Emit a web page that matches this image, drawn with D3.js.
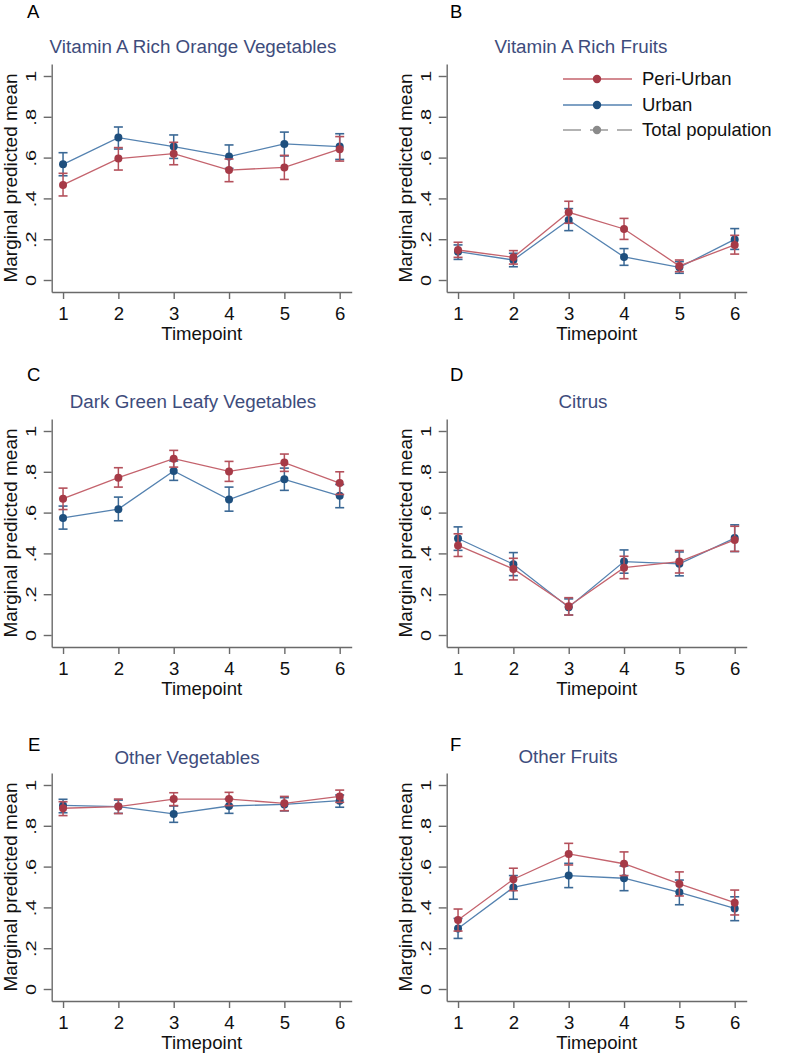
<!DOCTYPE html>
<html><head><meta charset="utf-8">
<script src="https://cdn.jsdelivr.net/npm/d3@7"></script>
<style>body{margin:0;background:#fff}svg{display:block}</style>
</head><body><svg id="c" width="789" height="1054"></svg>
<script>
// ---------- data ----------
const timepoints = [1, 2, 3, 4, 5, 6];
const panelLetters = ["A", "B", "C", "D", "E", "F"];
const panelTitles = ["Vitamin A Rich Orange Vegetables", "Vitamin A Rich Fruits",
  "Dark Green Leafy Vegetables", "Citrus", "Other Vegetables", "Other Fruits"];
const yTickValues = [0, 0.2, 0.4, 0.6, 0.8, 1];
const yTickLabels = ["0", ".2", ".4", ".6", ".8", "1"];
const seriesNames = ["Peri-Urban", "Urban", "Total population"];
const xAxisTitle = "Timepoint";
const yAxisTitle = "Marginal predicted mean";

// Peri-Urban: mean, lower CI, upper CI (one row per panel A..F)
const periMean = [
  [0.466, 0.595, 0.619, 0.539, 0.552, 0.641],
  [0.147, 0.111, 0.332, 0.250, 0.069, 0.172],
  [0.668, 0.771, 0.864, 0.802, 0.845, 0.745],
  [0.439, 0.324, 0.141, 0.330, 0.360, 0.466],
  [0.886, 0.894, 0.931, 0.931, 0.910, 0.944],
  [0.338, 0.538, 0.662, 0.614, 0.515, 0.423]];
const periLo = [
  [0.412, 0.539, 0.565, 0.482, 0.493, 0.583],
  [0.111, 0.078, 0.278, 0.199, 0.041, 0.127],
  [0.615, 0.725, 0.823, 0.753, 0.802, 0.689],
  [0.385, 0.270, 0.098, 0.276, 0.304, 0.410],
  [0.850, 0.860, 0.899, 0.899, 0.874, 0.915],
  [0.284, 0.482, 0.608, 0.556, 0.456, 0.363]];
const periHi = [
  [0.523, 0.649, 0.675, 0.593, 0.611, 0.703],
  [0.185, 0.144, 0.386, 0.302, 0.098, 0.219],
  [0.720, 0.820, 0.905, 0.851, 0.887, 0.800],
  [0.496, 0.376, 0.183, 0.386, 0.414, 0.533],
  [0.918, 0.931, 0.962, 0.964, 0.944, 0.975],
  [0.392, 0.592, 0.714, 0.672, 0.574, 0.485]];
// Urban
const urbanMean = [
  [0.567, 0.698, 0.654, 0.605, 0.667, 0.654],
  [0.139, 0.098, 0.294, 0.113, 0.062, 0.199],
  [0.574, 0.617, 0.804, 0.664, 0.763, 0.682],
  [0.473, 0.347, 0.136, 0.360, 0.349, 0.475],
  [0.900, 0.894, 0.858, 0.897, 0.905, 0.923],
  [0.297, 0.498, 0.556, 0.543, 0.474, 0.395]];
const urbanLo = [
  [0.511, 0.642, 0.596, 0.547, 0.608, 0.591],
  [0.101, 0.065, 0.242, 0.072, 0.033, 0.150],
  [0.519, 0.560, 0.758, 0.607, 0.709, 0.624],
  [0.415, 0.291, 0.098, 0.303, 0.290, 0.409],
  [0.864, 0.861, 0.817, 0.861, 0.873, 0.891],
  [0.248, 0.440, 0.497, 0.482, 0.413, 0.335]];
const urbanHi = [
  [0.624, 0.750, 0.711, 0.662, 0.725, 0.717],
  [0.172, 0.131, 0.350, 0.154, 0.090, 0.252],
  [0.632, 0.676, 0.853, 0.725, 0.818, 0.738],
  [0.530, 0.404, 0.177, 0.417, 0.407, 0.540],
  [0.930, 0.926, 0.897, 0.931, 0.938, 0.951],
  [0.346, 0.556, 0.616, 0.603, 0.534, 0.452]];

// ---------- layout / style ----------
const colX = [0, 395], rowY = [0, 355, 709];
const titleCX = [193, 186, 193, 188, 187, 173];
const titleBase = [53, 53, 53, 53, 55, 54];
const letterX = [27, 55, 27, 55, 28, 55];
const letterBase = [18, 18, 26, 26, 42, 42];
const FONT = "'Liberation Sans', Arial, sans-serif";
const styles = {
  peri: {marker: "#a63a47", line: "#c4636d", bar: "#b4505b"},
  urban: {marker: "#1e4f7e", line: "#5482b0", bar: "#3a6895"},
  total: {marker: "#8a8a8a", line: "#9a9a9a"}
};
const axisColor = "#6a6a6a";
const titleColor = "#3e4c7c";

const svg = d3.select("#c");

panelTitles.forEach((title, p) => {
  const c = p % 2, r = Math.floor(p / 2);
  const g = svg.append("g").attr("transform", `translate(${colX[c]},${rowY[r]})`);
  const x = d3.scaleLinear().domain([0.795, 6.217]).range([51.7, 351.7]);
  const y = d3.scaleLinear().domain([-0.0588, 1.0588]).range([292, 64]);

  // y axis
  const ya = g.append("g").attr("transform", "translate(51.7,0)")
    .call(d3.axisLeft(y).tickValues(yTickValues).tickFormat((d, i) => yTickLabels[i])
      .tickSize(8).tickSizeOuter(0));
  ya.select(".domain").attr("stroke", axisColor).attr("stroke-width", 1.4);
  ya.selectAll(".tick line").attr("stroke", axisColor).attr("stroke-width", 1.4);
  ya.selectAll(".tick text").attr("x", null).attr("dy", null)
    .attr("transform", "translate(-16,0) rotate(-90) scale(1,0.76)")
    .attr("text-anchor", "middle").attr("fill", "#111")
    .style("font-family", FONT).style("font-size", "20px");

  // x axis
  const xa = g.append("g").attr("transform", "translate(0,292)")
    .call(d3.axisBottom(x).tickValues(timepoints).tickFormat(d3.format("d"))
      .tickSize(7).tickSizeOuter(0));
  xa.select(".domain").attr("stroke", axisColor).attr("stroke-width", 1.4);
  xa.selectAll(".tick line").attr("stroke", axisColor).attr("stroke-width", 1.4);
  xa.selectAll(".tick text").attr("y", 27.8).attr("dy", null).attr("fill", "#111")
    .style("font-family", FONT).style("font-size", "18.6px");

  // axis titles
  g.append("text").attr("transform", "translate(16.5,178) rotate(-90)")
    .attr("text-anchor", "middle").attr("fill", "#111")
    .style("font-family", FONT).style("font-size", "19px").text(yAxisTitle);
  g.append("text").attr("x", 201.7).attr("y", 340).attr("text-anchor", "middle")
    .attr("fill", "#111").style("font-family", FONT).style("font-size", "18.6px").text(xAxisTitle);

  // panel title
  g.append("text").attr("x", titleCX[p]).attr("y", titleBase[p]).attr("text-anchor", "middle")
    .attr("fill", titleColor).style("font-family", FONT).style("font-size", "18.8px").text(title);
  // panel letter
  g.append("text").attr("x", letterX[p]).attr("y", letterBase[p])
    .attr("fill", "#000").style("font-family", FONT)
    .style("font-size", "18.5px").text(panelLetters[p]);

  // series: urban first, then peri-urban on top
  const series = [
    {key: "urban", mean: urbanMean[p], lo: urbanLo[p], hi: urbanHi[p]},
    {key: "peri", mean: periMean[p], lo: periLo[p], hi: periHi[p]}
  ];
  const line = d3.line().x(d => x(d.t)).y(d => y(d.v));
  series.forEach(s => {
    const st = styles[s.key];
    const pts = timepoints.map((t, i) => ({t, v: s.mean[i], lo: s.lo[i], hi: s.hi[i]}));
    const sg = g.append("g");
    sg.append("path").datum(pts).attr("d", line).attr("fill", "none")
      .attr("stroke", st.line).attr("stroke-width", 1.3);
    const eb = sg.selectAll(".eb").data(pts).enter().append("g");
    eb.append("line").attr("x1", d => x(d.t)).attr("x2", d => x(d.t))
      .attr("y1", d => y(d.lo)).attr("y2", d => y(d.hi))
      .attr("stroke", st.bar).attr("stroke-width", 1.5);
    [d => d.lo, d => d.hi].forEach(acc => {
      eb.append("line").attr("x1", d => x(d.t) - 4.5).attr("x2", d => x(d.t) + 4.5)
        .attr("y1", d => y(acc(d))).attr("y2", d => y(acc(d)))
        .attr("stroke", st.bar).attr("stroke-width", 1.6);
    });
    sg.selectAll("circle").data(pts).enter().append("circle")
      .attr("cx", d => x(d.t)).attr("cy", d => y(d.v)).attr("r", 4)
      .attr("fill", st.marker);
  });

  // legend (panel B only)
  if (p === 1) {
    const lg = g.append("g");
    const keys = ["peri", "urban", "total"];
    const rowsY = [79, 105, 130];
    keys.forEach((k, i) => {
      const st = styles[k];
      lg.append("line").attr("x1", 168).attr("x2", 237).attr("y1", rowsY[i]).attr("y2", rowsY[i])
        .attr("stroke", st.line).attr("stroke-width", 1.5)
        .attr("stroke-dasharray", k === "total" ? "18 9" : null);
      lg.append("circle").attr("cx", 202).attr("cy", rowsY[i]).attr("r", 4.2).attr("fill", st.marker);
      lg.append("text").attr("x", 247).attr("y", rowsY[i]).attr("dy", "0.35em")
        .attr("fill", "#111").style("font-family", FONT).style("font-size", "18.5px")
        .text(seriesNames[i]);
    });
  }
});
</script>
</body></html>
